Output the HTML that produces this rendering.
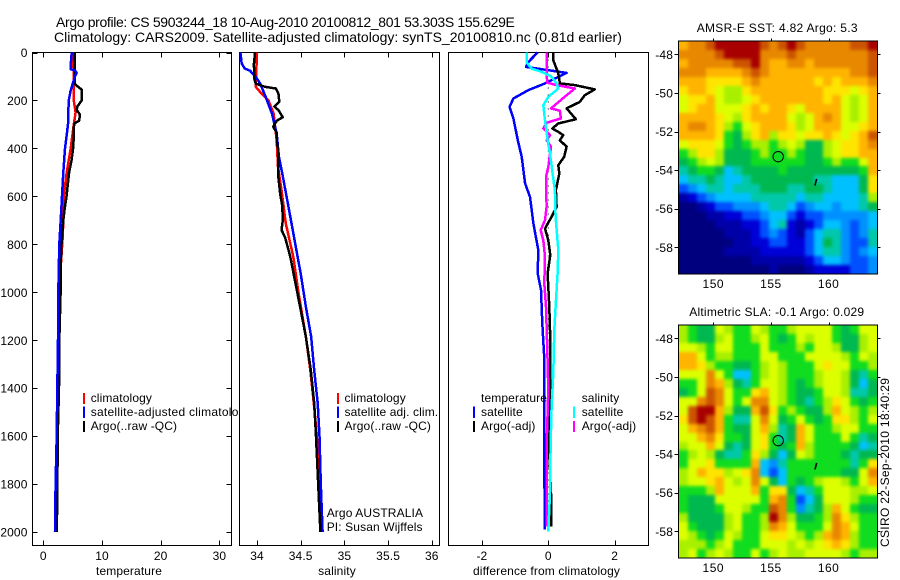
<!DOCTYPE html>
<html>
<head>
<meta charset="utf-8">
<title>Argo profile</title>
<style>
html,body{margin:0;padding:0;background:#fff;}
svg{display:block;}
text{font-family:"Liberation Sans",Arial,sans-serif;fill:#000;font-size:12px;letter-spacing:.12px;}
</style>
</head>
<body>
<svg id="fig" xmlns="http://www.w3.org/2000/svg" width="900" height="580" viewBox="0 0 900 580">
<defs>
<filter id="soft" filterUnits="userSpaceOnUse" x="640" y="0" width="260" height="580" color-interpolation-filters="sRGB"><feGaussianBlur stdDeviation="1.7"/></filter>
<clipPath id="sst-map-clip"><rect x="679" y="41" width="199" height="233"/></clipPath>
<clipPath id="sla-map-clip"><rect x="679" y="325" width="199" height="233"/></clipPath>
</defs>
</svg>
<script>
// ---- Chart data ----
const depthTicks = [0,200,400,600,800,1000,1200,1400,1600,1800,2000];
const tempTicks = [0,10,20,30];
const salTicks = [34,34.5,35,35.5,36];
const salTickLabels = ['34','34.5','35','35.5','36'];
const diffTicks = [-2,0,2];
const lonTicks = [150,155,160];
const latTicks = [-48,-50,-52,-54,-56,-58];

const tempClimDepth = [0,100,200,250,300,400,500,600,700,770,1000,1400,1800,2000];
const tempClimValue = [5.06,5.2,5.2,5.5,5.2,4.67,3.98,3.5,3.4,3.3,2.67,2.56,2.28,2.16];
const tempSatDepth = [0,50,70,75,85,100,130,160,200,300,320,400,500,600,700,800,1000,1200,1400,1600,1800,2000];
const tempSatValue = [4.83,4.67,4.67,5.4,5.68,5.4,5.0,4.65,4.32,4.2,4.1,3.7,3.4,3.19,2.96,2.73,2.56,2.5,2.39,2.28,2.1,2.0];
const tempArgoDepth = [0,130,140,155,200,225,240,260,285,295,310,350,400,450,500,600,650,700,800,900,1000,1200,1400,1600,1800,2000];
const tempArgoValue = [5.35,5.35,5.8,6.54,6.54,5.8,5.7,6.25,6.1,5.35,5.2,5.2,5.07,4.8,4.4,3.95,3.65,3.4,3.1,2.95,2.95,2.73,2.67,2.45,2.4,2.3];

const salClimDepth = [0,143,171,199,254,366,477,574,713,852,991,1186,1324,1462,1600,2000];
const salClimValue = [34,33.985,34.05,34.13,34.19,34.225,34.24,34.28,34.33,34.415,34.47,34.56,34.61,34.65,34.685,34.73];
const salSatDepth = [0,46,67,76,101,129,185,254,338,435,505,644,783,922,1061,1186,1324,1462,1600,1800,2000];
const salSatValue = [33.81,33.825,33.86,33.92,33.985,34.035,34.1,34.17,34.225,34.25,34.29,34.36,34.43,34.5,34.56,34.62,34.655,34.695,34.715,34.73,34.75];
const salArgoDepth = [0,50,110,130,143,150,170,205,225,240,270,285,310,335,370,410,520,590,640,700,740,770,850,990,1186,1324,1462,1600,1800,2000];
const salArgoValue = [33.977,33.965,33.97,33.985,34.09,34.215,34.245,34.255,34.2,34.245,34.295,34.225,34.185,34.225,34.225,34.245,34.245,34.265,34.29,34.295,34.28,34.32,34.38,34.455,34.56,34.615,34.655,34.675,34.7,34.725];

const diffTSatDepth = [0,39,60,74,85,99,115,129,157,192,227,275,366,435,546,602,713,824,921,990,1130,1255,1644,1990];
const diffTSatValue = [-0.32,-0.6,-0.67,0,0.55,0.35,0.1,-0.1,-0.6,-1.05,-1.17,-1.05,-0.92,-0.8,-0.7,-0.55,-0.45,-0.3,-0.32,-0.22,-0.18,-0.13,-0.13,-0.1];
const diffTArgoDepth = [0,32,87,129,136,154,178,206,233,278,296,317,331,345,366,393,435,470,505,574,644,685,734,783,845,921,1060,1199,1407,1644,1838,1977];
const diffTArgoValue = [0.15,0.15,0.3,0.35,0.8,1.4,1.1,0.95,0.55,0.83,0.3,0.12,0.3,0.45,0.35,0.55,0.48,0.3,0.33,0.23,0.25,0.1,-0.1,0,0.06,-0.02,0.03,0.06,0.06,0.02,0.08,0.08];
const diffSSatDepth = [0,42,67,81,99,129,150,185,220,282,366,421,505,574,685,824,921,1060,1157,1338,1477,1644,1838,1998];
const diffSSatValue = [-0.65,-0.65,-0.5,-0.2,0.08,0.25,0.3,0,-0.15,-0.1,-0.02,0.05,0.13,0.2,0.22,0.3,0.28,0.22,0.18,0.15,0.1,0.07,0.05,0];
const diffSArgoDepth = [0,87,126,136,150,178,233,243,275,293,317,345,366,393,477,518,644,699,741,783,851,963,1060,1240,1407,1644,1977];
const diffSArgoValue = [-0.05,-0.05,-0.03,0.25,0.8,0.55,0.08,0.35,0.38,-0.05,-0.15,0.05,-0.05,0.08,0,-0.07,-0.05,-0.1,-0.23,-0.15,-0.1,-0.12,-0.07,-0.03,0,-0.05,-0.05];

// colour-level grids, north to south, west to east
const sstLevels = [
[12,13,13,14,15,15,15,15,15,14,13,14,15,14,13,13,13,13,13,14,14,15],
[13,13,13,13,14,15,15,15,15,13,13,13,14,13,13,13,13,13,13,13,13,14],
[12,13,13,13,13,13,14,14,15,13,12,12,13,13,12,13,13,13,13,13,13,14],
[13,13,13,12,12,12,12,13,14,13,12,12,12,12,12,12,12,12,12,13,13,14],
[12,12,12,11,11,11,11,12,13,12,12,12,12,12,12,11,12,11,12,12,12,13],
[11,12,12,11,10,9,9,11,12,12,12,12,12,12,12,12,11,11,11,10,11,12],
[10,11,11,12,10,9,9,10,11,12,12,12,12,12,12,12,11,12,10,9,10,12],
[10,11,12,12,10,10,10,11,12,11,12,12,11,10,12,12,12,12,10,9,10,12],
[12,12,12,12,11,10,9,11,12,12,12,12,10,9,10,12,13,12,10,9,10,12],
[12,13,13,12,11,9,8,10,11,12,12,12,11,9,10,12,12,12,10,10,11,12],
[12,12,12,12,11,8,7,9,11,12,9,11,11,10,11,11,12,11,10,11,12,14],
[10,11,11,11,10,8,7,8,9,9,8,9,10,9,7,7,9,10,11,11,12,13],
[8,9,11,11,9,7,7,7,8,9,8,8,9,8,7,7,9,10,11,11,12,12],
[7,8,9,10,9,7,7,7,8,8,8,8,8,8,7,7,8,9,8,8,10,12],
[6,7,8,8,7,5,6,7,7,7,7,8,7,7,7,7,7,7,7,7,8,12],
[5,6,6,7,6,5,5,6,7,7,7,7,7,7,7,6,6,5,5,5,7,11],
[3,4,5,6,6,5,6,6,6,7,7,7,6,6,7,7,6,5,5,5,7,11],
[1,2,3,4,5,5,5,5,6,6,6,6,6,5,6,6,5,5,5,5,6,9],
[0,0,1,2,3,3,4,4,4,5,6,6,5,3,4,5,5,4,5,5,6,7],
[0,0,0,1,1,2,2,3,3,4,5,5,3,2,3,3,4,4,4,4,4,5],
[0,0,0,0,1,1,1,2,2,3,5,6,2,1,2,3,5,5,4,3,4,5],
[0,0,0,0,0,1,1,1,2,3,4,3,2,1,3,5,6,6,4,3,4,6],
[0,0,0,0,0,0,1,1,2,2,3,3,2,2,3,5,7,6,4,3,3,6],
[0,0,0,0,0,1,1,1,1,2,2,2,2,2,3,5,6,6,4,3,4,5],
[0,0,0,0,0,0,0,0,1,1,1,1,1,1,2,3,5,5,4,3,3,4],
[0,0,0,0,0,0,0,0,0,0,1,0,0,0,1,2,2,2,2,3,3,4]
];
const slaLevels = [
[9,8,7,7,10,9,8,8,10,9,8,8,9,10,10,10,10,8,7,8,10,10],
[9,8,7,7,9,10,8,8,9,10,8,7,8,10,9,10,10,8,7,7,9,10],
[10,10,9,8,10,10,8,8,8,10,8,8,8,9,8,10,10,9,7,7,9,10],
[12,12,10,8,9,9,8,8,8,10,10,8,8,8,10,10,10,10,9,8,10,9],
[12,12,11,9,8,8,7,7,8,9,10,9,8,8,8,10,11,10,10,8,8,9],
[10,10,10,13,10,8,5,5,8,9,10,9,8,8,8,9,10,10,9,7,6,8],
[8,8,10,13,12,9,7,6,8,10,10,9,8,7,8,9,10,10,9,7,5,7],
[7,8,10,14,13,10,8,8,11,12,10,9,8,7,7,8,10,10,9,6,6,7],
[10,10,13,14,13,10,8,10,13,13,10,9,8,7,6,8,9,11,10,8,7,8],
[10,14,15,15,12,9,7,7,12,14,11,8,9,8,7,7,9,12,10,9,8,9],
[11,14,15,14,12,8,6,6,10,13,10,7,8,10,8,7,8,11,11,9,8,10],
[10,12,13,14,12,8,7,7,10,12,9,6,7,12,10,8,8,9,10,10,8,8],
[10,10,12,13,11,8,8,7,10,11,8,6,7,12,10,8,8,8,10,8,6,7],
[9,10,10,12,10,7,6,7,10,11,8,7,8,12,9,8,8,8,8,7,5,6],
[8,9,10,9,7,6,6,8,11,9,7,5,7,10,9,8,8,8,7,6,7,7],
[8,10,10,11,8,8,8,8,12,5,4,6,8,8,8,8,8,8,8,6,8,11],
[9,10,12,11,11,9,10,11,13,5,3,5,8,8,8,8,8,8,7,7,10,13],
[9,10,10,11,12,10,9,10,13,10,7,5,8,7,8,9,10,10,9,8,10,12],
[8,8,8,9,12,10,10,10,12,8,11,11,7,5,6,8,10,10,10,9,9,10],
[8,7,7,7,10,10,10,10,10,8,12,13,8,3,5,7,10,10,10,9,8,8],
[8,7,7,7,8,10,10,9,8,8,14,13,8,4,6,7,9,12,10,8,7,7],
[9,7,7,7,7,9,10,8,8,9,15,13,9,7,7,8,9,13,11,9,8,8],
[10,8,7,7,7,9,10,8,8,9,13,12,10,8,8,8,10,13,12,10,8,8],
[10,9,8,7,8,10,9,8,8,10,11,11,10,9,8,9,12,13,12,9,8,8],
[9,9,9,8,9,10,8,8,8,10,10,10,9,10,9,10,11,12,11,9,8,8],
[9,10,8,9,10,9,8,8,10,8,9,10,9,9,10,10,10,10,9,8,9,9]
];
const floatLon = 155.629;
const floatLat = -53.303;
const trackLon = [158.97,158.9,158.82];
const trackLat = [-54.46,-54.6,-54.8];

// ---- Rendering ----
const svg = document.getElementById('fig');
const NS = 'http://www.w3.org/2000/svg';
let parent = svg;
function make(tag, attrs, name){
  const el = document.createElementNS(NS, tag);
  for (const k in attrs) el.setAttribute(k, attrs[k]);
  
  
  parent.appendChild(el);
  return el;
}
function label(str, x, y, anchor, name, len, extra){
  const a = Object.assign({x:x, y:y, 'text-anchor':anchor||'start'}, extra||{});
  if (len) { a.textLength = len; a.lengthAdjust = 'spacing'; }
  const el = make('text', a, name);
  el.textContent = str;
  return el;
}
const crisp = {'shape-rendering':'crispEdges'};
function seg(x1,y1,x2,y2,name){
  return make('line', Object.assign({x1:x1,y1:y1,x2:x2,y2:y2,stroke:'#000','stroke-width':1},crisp), name);
}

const yDepth = d => 52.5 + d * 0.2398;
const xTemp = v => 43.3 + v * 5.87;
const xSal = v => 257 + (v - 34) * 87.4;
const xDiff = v => 548.3 + v * 33.2;

const TOP = 52.5, BOT = 545.5, TL = 5;
function panel(left, right, key){
  make('rect', Object.assign({x:left, y:TOP, width:right-left, height:BOT-TOP, fill:'#fff', stroke:'#000','stroke-width':1},crisp), key+'-axes-box');
}
function xTicks(vals, labels, scale, key){
  vals.forEach((v,i)=>{
    const x = Math.round(scale(v))+0.5;
    seg(x,TOP,x,TOP+TL,key+'-top-tick');
    seg(x,BOT,x,BOT-TL,key+'-bottom-tick');
    label(labels[i], scale(v), 560, 'middle', key+'-x-tick-label');
  });
}
function line(depths, values, scale, color, name){
  const pts = depths.map((d,i)=>scale(values[i]).toFixed(1)+','+yDepth(d).toFixed(1)).join(' ');
  return make('polyline', Object.assign({points:pts, fill:'none', stroke:color, 'stroke-width':2.5, 'stroke-linejoin':'round'},crisp), name);
}
function legendMark(x, y1, y2, color, name){
  make('line', Object.assign({x1:x,y1:y1,x2:x,y2:y2,stroke:color,'stroke-width':2.4},crisp), name);
}

label('Argo profile: CS 5903244_18 10-Aug-2010 20100812_801 53.303S 155.629E', 56, 27, 'start', 'figure-title-line-1', 459).style.fontSize='14px';
label('Climatology: CARS2009. Satellite-adjusted climatology: synTS_20100810.nc (0.81d earlier)', 54, 42, 'start', 'figure-title-line-2', 568).style.fontSize='14px';

// Temperature panel
panel(32.5, 231.5, 'temperature');
depthTicks.forEach(d=>{
  const y = Math.round(yDepth(d))+0.5;
  seg(32.5,y,37.5,y,'depth-left-tick');
  seg(231.5,y,226.5,y,'depth-right-tick');
  label(String(d), 27.5, yDepth(d)+4.5, 'end', 'depth-tick-label');
});
xTicks(tempTicks, tempTicks.map(String), xTemp, 'temperature');
line(tempClimDepth, tempClimValue, xTemp, '#ff0000', 'temperature-climatology-line');
line(tempArgoDepth, tempArgoValue, xTemp, '#000000', 'temperature-argo-line');
line(tempSatDepth, tempSatValue, xTemp, '#0000ff', 'temperature-satellite-line');
label('temperature', 129, 575, 'middle', 'temperature-x-axis-title');
legendMark(84,393,404,'#ff0000','temperature-legend-climatology-mark');
legendMark(84,406.5,418,'#0000ff','temperature-legend-satellite-mark');
legendMark(84,421,432,'#000000','temperature-legend-argo-mark');
label('climatology', 90.7, 402, 'start', 'temperature-legend-climatology');
label('satellite-adjusted climatology', 90.7, 416, 'start', 'temperature-legend-satellite', 161);
label('Argo(..raw -QC)', 90.7, 430, 'start', 'temperature-legend-argo');

// Salinity panel (white box clips the overflowing legend text)
panel(239.5, 439.5, 'salinity');
xTicks(salTicks, salTickLabels, xSal, 'salinity');
line(salClimDepth, salClimValue, xSal, '#ff0000', 'salinity-climatology-line');
line(salSatDepth, salSatValue, xSal, '#0000ff', 'salinity-satellite-line');
line(salArgoDepth, salArgoValue, xSal, '#000000', 'salinity-argo-line');
label('salinity', 337, 575, 'middle', 'salinity-x-axis-title');
legendMark(338,393,404,'#ff0000','salinity-legend-climatology-mark');
legendMark(338,406.5,418,'#0000ff','salinity-legend-satellite-mark');
legendMark(338,421,432,'#000000','salinity-legend-argo-mark');
label('climatology', 344.5, 402, 'start', 'salinity-legend-climatology');
label('satellite adj. clim.', 344.5, 416, 'start', 'salinity-legend-satellite');
label('Argo(..raw -QC)', 344.5, 430, 'start', 'salinity-legend-argo');
label('Argo AUSTRALIA', 326.7, 517, 'start', 'argo-australia-note');
label('PI: Susan Wijffels', 326.7, 531, 'start', 'principal-investigator-note');

// Difference panel
panel(448.5, 648.5, 'difference');
xTicks(diffTicks, diffTicks.map(String), xDiff, 'difference');
make('line', {x1:xDiff(0),y1:yDepth(0),x2:xDiff(0),y2:yDepth(2000)+2,stroke:'#000','stroke-width':1,'stroke-dasharray':'1 6'}, 'zero-difference-line');
line(diffTSatDepth, diffTSatValue, xDiff, '#0000ff', 'difference-temperature-satellite-line');
line(diffTArgoDepth, diffTArgoValue, xDiff, '#000000', 'difference-temperature-argo-line');
line(diffSArgoDepth, diffSArgoValue, xDiff, '#ff00ff', 'difference-salinity-argo-line');
line(diffSSatDepth, diffSSatValue, xDiff, '#00ffff', 'difference-salinity-satellite-line');
label('difference from climatology', 546.5, 575, 'middle', 'difference-x-axis-title', 147);
label('temperature', 481, 402, 'start', 'difference-legend-temperature-heading');
legendMark(474,406.5,418,'#0000ff','difference-legend-temperature-satellite-mark');
legendMark(474,421,432,'#000000','difference-legend-temperature-argo-mark');
label('satellite', 481, 416, 'start', 'difference-legend-temperature-satellite');
label('Argo(-adj)', 481, 430, 'start', 'difference-legend-temperature-argo');
label('salinity', 581.7, 402, 'start', 'difference-legend-salinity-heading');
legendMark(574,406.5,418,'#00ffff','difference-legend-salinity-satellite-mark');
legendMark(574,421,432,'#ff00ff','difference-legend-salinity-argo-mark');
label('satellite', 581.7, 416, 'start', 'difference-legend-salinity-satellite');
label('Argo(-adj)', 581.7, 430, 'start', 'difference-legend-salinity-argo');

// Maps
const palette = ['#00007f','#0000a8','#0000d8','#0050ff','#0090ff','#00c0ff','#00c8a8','#00b850','#10dc20','#a8f000','#dcff00','#ffe400','#ffb400','#e88800','#cc5400','#a80000'];
const LON0 = 147.05, LON1 = 164.22;
const xLon = lon => 713.3 + (lon - 150) * 11.53;
function map(levels, yLat, top, bottom, title, titleX, titleLen, key){
  const rows = levels.length, cols = levels[0].length;
  parent = svg;
  const outer = make('g', {'clip-path':'url(#'+key+'-clip)'}, key+'-image');
  parent = outer;
  const inner = make('g', {filter:'url(#soft)'}, key+'-cells');
  parent = inner;
  const pad = 9;
  levels.forEach((row,r)=>{
    row.forEach((v,c)=>{
      let x0 = Math.round(xLon(LON0 + (LON1-LON0)*c/cols));
      let x1 = Math.round(xLon(LON0 + (LON1-LON0)*(c+1)/cols));
      let y0 = Math.round(top + (bottom-top)*r/rows);
      let y1 = Math.round(top + (bottom-top)*(r+1)/rows);
      if (c===0) x0 -= pad;
      if (c===cols-1) x1 += pad;
      if (r===0) y0 -= pad;
      if (r===rows-1) y1 += pad;
      make('rect', Object.assign({x:x0,y:y0,width:x1-x0,height:y1-y0,fill:palette[v]},crisp), key+'-cell');
    });
  });
  parent = svg;
  const L = Math.round(xLon(LON0))-0.5, R = Math.round(xLon(LON1))+0.5;
  make('rect', Object.assign({x:L,y:top-0.5,width:R-L,height:bottom-top+1,fill:'none',stroke:'#000','stroke-width':1},crisp), key+'-frame');
  lonTicks.forEach(lon=>{
    const x = Math.round(xLon(lon))+0.5;
    seg(x,top-3,x,top,key+'-top-tick');
    const t = label(String(lon), xLon(lon), bottom+14.5, 'middle', key+'-lon-tick-label');
    t.style.letterSpacing = '.5px';
  });
  latTicks.forEach(lat=>{
    const y = Math.round(yLat(lat))+0.5;
    seg(L-4,y,L,y,key+'-left-tick');
    seg(R,y,R+3,y,key+'-right-tick');
    label(String(lat), 673, yLat(lat)+4.5, 'end', key+'-lat-tick-label');
  });
  label(title, titleX, top-9.5, 'middle', key+'-title', titleLen);
  make('polyline', {points:trackLon.map((lon,i)=>xLon(lon).toFixed(1)+','+yLat(trackLat[i]).toFixed(1)).join(' '), fill:'none', stroke:'#000','stroke-width':1.6}, key+'-float-track');
  make('circle', {cx:xLon(floatLon), cy:yLat(floatLat), r:5.2, fill:'none', stroke:'#000','stroke-width':1}, key+'-float-position');
}
map(sstLevels, lat => 54.3 + (-48 - lat) * 19.3, 41.5, 273.5, 'AMSR-E SST: 4.82 Argo: 5.3', 777.2, 161, 'sst-map');
map(slaLevels, lat => 338.3 + (-48 - lat) * 19.3, 325.5, 557.5, 'Altimetric SLA: -0.1 Argo: 0.029', 776.7, 175, 'sla-map');

label('CSIRO 22-Sep-2010 18:40:29', 0, 0, 'start', 'timestamp-label', 169, {transform:'translate(889,547) rotate(-90)'});
</script>
</body>
</html>
